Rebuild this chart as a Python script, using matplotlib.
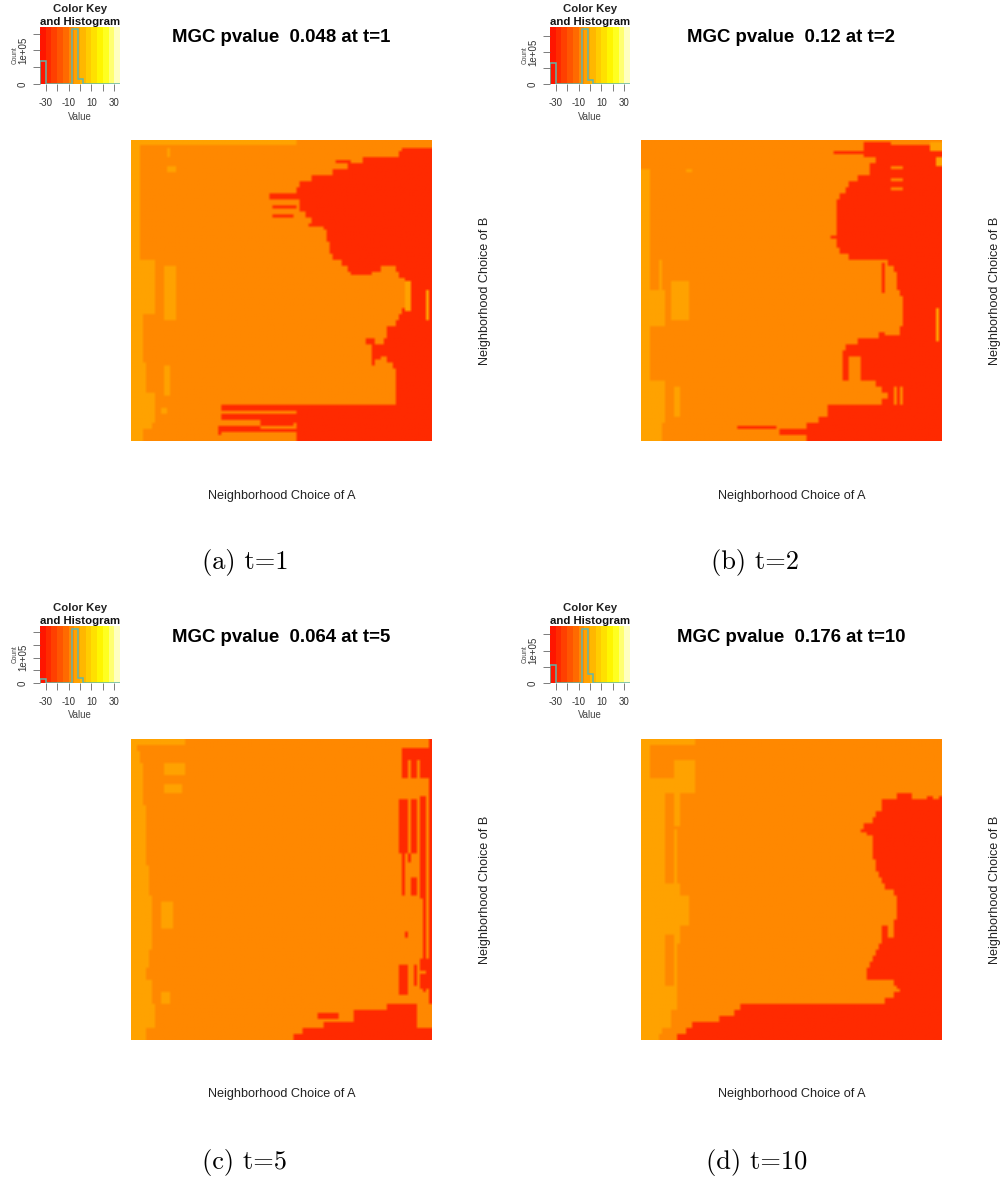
import numpy as np
import matplotlib
matplotlib.use("Agg")
import matplotlib.pyplot as plt
from matplotlib.colors import ListedColormap, BoundaryNorm

W, H = 1004, 1177
SANS = ["Liberation Sans", "DejaVu Sans"]

# --- colour key ---
key_colors = ["#FF1500", "#FF2A00", "#FF4000", "#FF5500", "#FF6A00", "#FF8800", "#FFA200",
              "#FFB700", "#FFCC00", "#FFE000", "#FFF500", "#FFFF20", "#FFFF70", "#FFFFC0"]
key_edges = list(range(-35, 36, 5))
key_ticks = [-30, -20, -10, 0, 10, 20, 30]
key_tick_labels = ["-30", "", "-10", "", "10", "", "30"]
hist_edges = [-35, -30, -7, -2, 2.6, 35]
hist_a = [68000, 0, 163000, 16000, 0]
hist_b = [66000, 0, 172000, 14000, 0]
hist_c = [17000, 0, 212000, 18000, 0]
hist_d = [55000, 0, 166000, 28000, 0]
ytop = [171000, 180000, 226000, 177500]
count_ticks = [[0, 50000, 100000, 150000], [0, 50000, 100000, 150000],
               [0, 50000, 100000, 150000, 200000], [0, 50000, 100000, 150000]]

RED, ORANGE, LIGHT = -27.5, -7.5, -2.5

# red begins at this column, per row pair (50 rows, top to bottom)
red_a = [100,100,89,77,72,67,60,56,55,46,56,56,58,60,64,65,65,66,66,67,70,72,89,91,92,92,92,91,90,89,
         88,85,85,84,80,82,85,87,88,88,88,88,88,88,30,30,30,55,29,55]
red_b = [100,74,74,78,76,76,72,69,68,66,65,65,65,65,65,65,65,65,66,69,82,84,85,85,85,86,87,87,87,87,
         87,86,79,72,68,65,66,67,67,67,78,80,82,80,62,62,59,55,46,55]
red_c = [100]*44 + [85,74,74,64,57,54]
red_d = [100]*10 + [80,80,78,77,74,75,77,77,77,77,78,78,79,80,81,84,85,85,85,85,
                    84,80,80,80,79,78,77,76,75,75,84,86,84,81,33,31,26,17,15,12]

# light orange runs up to this column, per row pair
light_a = [55]+[3]*19+[8]*9+[4]*8+[5]*6+[7]*5+[4]*2
light_b = [0]*5+[3]*35+[8]*7+[7]*3
light_c = [18,2,3,3,4,4,4,4,4,4,4]+[5]*10+[6]*5+[7]*9+[6]*3+[5]*2+[7]*4+[8]*4+[5]*2
light_d = [18]*9+[8]*6+[12]*9+[13]*2+[16]*5+[13]*3+[12]*11+[10]*3+[7,6]

# extra blocks: row from, row to, col from, col to, level
blocks_a = [(3,4,90,100,RED),(42,60,11,15,LIGHT),(9,11,12,15,LIGHT),(3,6,12,13,LIGHT),(75,85,11,13,LIGHT),
            (89,91,10,12,LIGHT),(84,94,5,8,LIGHT),(90,91,30,55,ORANGE),(93,95,28,43,ORANGE),(94,95,43,54,RED),
            (97,98,30,55,ORANGE),(95,96,29,43,RED),(47,57,91,93,LIGHT),(50,60,98,99,LIGHT),
            (22,24,46,55,ORANGE),(22,23,47,55,RED),(32,33,67,70,RED),(66,75,80,81,RED),
            (42,44,83,88,ORANGE),(44,45,73,80,RED),(7,8,68,73,RED),(8,9,68,71,ORANGE),(28,29,59,64,RED),
            (25,26,47,54,RED),(66,68,78,80,RED),(70,73,81,83,RED)]
blocks_b = [(4,5,64,74,RED),(32,33,63,65,RED),(41,51,80,81,RED),(10,11,15,17,LIGHT),
            (47,60,10,16,LIGHT),(50,62,3,8,LIGHT),(82,92,11,13,LIGHT),(40,50,6,7,LIGHT),
            (9,10,83,87,ORANGE),(13,14,83,87,ORANGE),(16,17,83,87,ORANGE),(1,4,96,100,LIGHT),(6,9,98,100,LIGHT),
            (56,67,98,99,LIGHT),(57,65,81,86,ORANGE),(72,80,69,73,ORANGE),(82,88,84,85,ORANGE),(82,88,86,87,ORANGE),
            (95,96,32,45,RED),(68,80,65,67,ORANGE),(1,2,74,83,RED),(0,1,74,83,ORANGE)]
blocks_c = [(3,7,90,100,RED),(7,13,90,92,RED),(7,13,93,95,RED),(7,13,96,100,RED),(13,14,90,100,ORANGE),
            (20,38,89,92,RED),(20,38,93,95,RED),(19,53,96,98,RED),(38,52,90,91,RED),(38,41,92,93,RED),
            (46,52,93,95,RED),(53,84,97,98,RED),(64,66,91,92,RED),(75,85,89,92,RED),(75,82,94,95,RED),
            (73,83,96,100,RED),(77,78,96,98,ORANGE),(0,100,99,100,RED),
            (91,93,62,69,RED),(88,96,95,100,ORANGE),(8,12,11,18,LIGHT),(15,18,11,17,LIGHT),
            (54,63,10,14,LIGHT),(84,88,10,13,LIGHT),(96,100,95,100,RED)]
blocks_d = [(20,22,81,83,RED),(18,22,85,90,RED),(19,22,95,97,RED),(19,22,99,100,RED),(62,66,82,84,ORANGE),
            (2,13,3,11,ORANGE),(2,7,11,18,ORANGE),(18,29,11,13,LIGHT),(30,48,8,11,ORANGE),(65,82,8,11,ORANGE),
            (82,83,85,88,RED),(84,85,80,84,ORANGE),(30,31,73,75,RED)]

titles = ["MGC pvalue  0.048 at t=1", "MGC pvalue  0.12 at t=2",
          "MGC pvalue  0.064 at t=5", "MGC pvalue  0.176 at t=10"]
captions = ["(a) t=1", "(b) t=2", "(c) t=5", "(d) t=10"]
xlabel = "Neighborhood Choice of A"
ylabel = "Neighborhood Choice of B"

cmap = ListedColormap(key_colors)
norm = BoundaryNorm(key_edges, cmap.N)


def build(red, light, blocks):
    m = np.full((100, 100), ORANGE)
    for i in range(50):
        m[2 * i:2 * i + 2, red[i]:] = RED
        m[2 * i:2 * i + 2, :light[i]] = LIGHT
    for r0, r1, c0, c1, v in blocks:
        m[r0:r1, c0:c1] = v
    return m


def axes_px(fig, x0, y0, x1, y1):
    return fig.add_axes([x0 / W, 1 - y1 / H, (x1 - x0) / W, (y1 - y0) / H])


def txt(fig, x, y, s, **kw):
    kw.setdefault("ha", "center")
    kw.setdefault("va", "center")
    kw.setdefault("family", SANS)
    fig.text(x / W, 1 - y / H, s, **kw)


fig = plt.figure(figsize=(W / 100, H / 100), dpi=100, facecolor="white")
offsets = [(0, 0), (510, 0), (0, 599), (510, 599)]
reds = [red_a, red_b, red_c, red_d]
lights = [light_a, light_b, light_c, light_d]
blocks = [blocks_a, blocks_b, blocks_c, blocks_d]
hists = [hist_a, hist_b, hist_c, hist_d]

for k, (dx, dy) in enumerate(offsets):
    # heat map
    ax = axes_px(fig, 131.5 + dx, 140 + dy, 432.5 + dx, 441 + dy)
    ax.imshow(build(reds[k], lights[k], blocks[k]), cmap=cmap, norm=norm, aspect="auto",
              interpolation="bilinear", interpolation_stage="rgba")
    ax.axis("off")

    # colour key + histogram
    kx = axes_px(fig, 40 + dx, 26.5 + dy, 120 + dx, 84 + dy)
    kx.imshow(np.array([[(a + b) / 2 for a, b in zip(key_edges[:-1], key_edges[1:])]]), cmap=cmap, norm=norm,
              aspect="auto", extent=(key_edges[0], key_edges[-1], 0, ytop[k]), interpolation="nearest")
    kx.stairs(hists[k], hist_edges, color="#62B5A8", lw=1.1)
    kx.set_xlim(key_edges[0], key_edges[-1])
    kx.set_ylim(0, ytop[k])
    for s in kx.spines.values():
        s.set_visible(False)
    kx.set_xticks(key_ticks)
    kx.set_xticklabels([])
    kx.set_yticks(count_ticks[k])
    kx.set_yticklabels([])
    kx.tick_params(axis="both", length=5, width=0.6, color="#666666")

    for v, lab in zip(key_ticks, key_tick_labels):
        if lab:
            txt(fig, 40 + dx + (v + 35) / 70 * 80, 103 + dy, lab, fontsize=7, color="#333333")
    txt(fig, 80 + dx, 116.5 + dy, "Value", fontsize=6.9, color="#444444")
    txt(fig, 23 + dx, 84 + dy, "0", fontsize=7, rotation=90, color="#333333")
    y1e5 = 84 - 57.5 * 100000 / ytop[k]
    txt(fig, 23 + dx, y1e5 + dy, "1e+05", fontsize=7, rotation=90, color="#333333")
    txt(fig, 15.5 + dx, 55 + dy, "Count", fontsize=4.8, rotation=90, color="#444444")
    txt(fig, 80 + dx, 9 + dy, "Color Key", fontsize=8.2, fontweight="bold", color="#222222")
    txt(fig, 80 + dx, 22 + dy, "and Histogram", fontsize=8.2, fontweight="bold", color="#111111")

    txt(fig, 281 + dx, 38 + dy, titles[k], fontsize=13.4, fontweight="bold", color="black")
    txt(fig, 281.5 + dx, 495.5 + dy, xlabel, fontsize=9.1, color="#222222")
    txt(fig, 485.5 + dx, 291 + dy, ylabel, fontsize=9.1, rotation=90, color="#222222")
    txt(fig, 245 + dx + (2 if k == 3 else 0), 563 + dy, captions[k], fontsize=19,
        family=["cmr10", "DejaVu Serif"], color="black")

fig.savefig("out.png", dpi=100, facecolor="white")
